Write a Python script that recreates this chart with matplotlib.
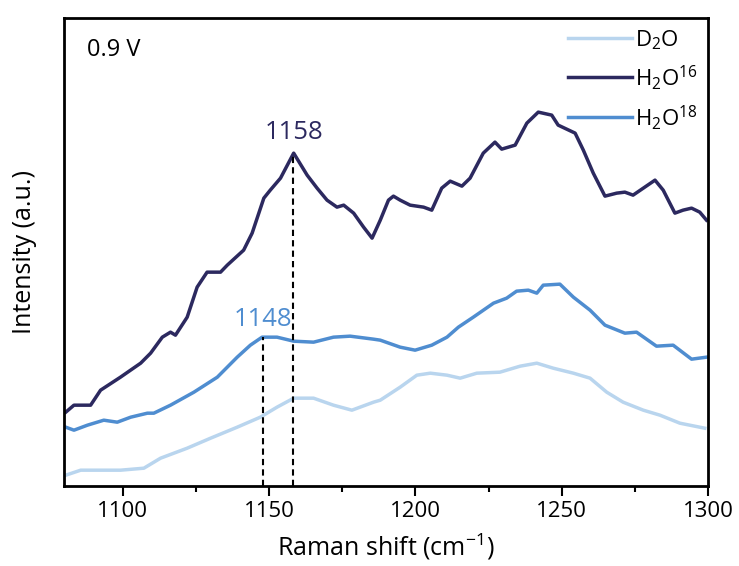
import matplotlib.pyplot as plt

plt.rcParams['font.family'] = ['Open Sans', 'DejaVu Sans']
plt.rcParams['mathtext.fontset'] = 'custom'
plt.rcParams['mathtext.rm'] = 'Open Sans'
plt.rcParams['mathtext.it'] = 'Open Sans'

# Raman shift (cm-1) and intensity (a.u.) for each electrolyte
shift_h2o16 = [1080.5, 1083.3, 1089.0, 1092.4, 1099.2, 1106.1, 1109.5, 1113.5, 1116.3, 1118.0,
               1122.0, 1125.4, 1128.8, 1133.4, 1135.7, 1141.3, 1144.2, 1148.2, 1150.4, 1153.9,
               1158.4, 1163.0, 1166.4, 1169.8, 1173.2, 1175.5, 1178.9, 1182.3, 1185.2, 1188.0,
               1190.8, 1192.5, 1194.8, 1198.2, 1202.8, 1205.6, 1209.0, 1211.9, 1215.9, 1218.7,
               1223.2, 1227.2, 1229.5, 1234.1, 1238.1, 1242.0, 1246.6, 1248.8, 1254.6, 1257.4,
               1260.8, 1264.8, 1268.8, 1271.6, 1274.4, 1277.9, 1281.9, 1284.7, 1288.7, 1291.5,
               1294.4, 1297.2, 1299.5]
int_h2o16 = [74, 81, 81, 96, 109, 123, 133, 149, 154, 151,
             169, 199, 214, 214, 221, 236, 253, 288, 296, 308,
             333, 311, 298, 286, 279, 281, 273, 259, 248, 266,
             286, 290, 286, 281, 279, 276, 298, 305, 300, 308,
             333, 344, 337, 341, 363, 374, 371, 361, 353, 336,
             313, 290, 293, 294, 291, 298, 306, 296, 273, 276,
             278, 274, 266]

shift_h2o18 = [1080.5, 1083.3, 1087.9, 1093.5, 1098.1, 1102.7, 1108.4, 1110.6, 1116.3, 1124.3,
               1132.3, 1139.1, 1143.6, 1147.6, 1152.7, 1158.4, 1165.2, 1172.0, 1177.7, 1185.7,
               1188.0, 1194.8, 1199.9, 1205.6, 1210.8, 1214.7, 1219.8, 1226.7, 1231.2, 1234.6,
               1238.6, 1241.5, 1243.7, 1249.4, 1254.0, 1259.7, 1264.8, 1271.6, 1275.6, 1282.4,
               1288.1, 1294.4, 1299.5]
int_h2o18 = [59, 56, 61, 66, 64, 69, 73, 73, 81, 94,
             109, 129, 141, 149, 149, 145, 144, 149, 150, 147,
             146, 139, 136, 141, 149, 159, 169, 183, 188, 195,
             196, 193, 201, 202, 189, 176, 161, 153, 154, 140,
             141, 127, 129]

shift_d2o = [1080.5, 1085.6, 1092.4, 1099.2, 1107.2, 1112.9, 1122.0, 1130.0, 1139.1, 1147.0,
             1152.7, 1158.4, 1165.2, 1172.0, 1178.3, 1185.7, 1188.0, 1194.8, 1200.5, 1205.1,
             1210.8, 1215.3, 1221.0, 1228.9, 1235.8, 1241.5, 1247.1, 1254.0, 1259.7, 1265.4,
             1271.0, 1277.9, 1283.6, 1290.4, 1298.9]
int_d2o = [11, 16, 16, 16, 18, 28, 38, 48, 59, 69,
           79, 88, 88, 81, 76, 84, 86, 99, 111, 113,
           111, 108, 113, 114, 120, 123, 118, 113, 108, 94,
           84, 76, 71, 63, 58]

peak_h2o16 = 1158
peak_h2o18 = 1148

c_d2o = '#b9d5ee'
c_h2o16 = '#2c295f'
c_h2o18 = '#4f8dd0'

fig = plt.figure(figsize=(7.39, 5.66), dpi=100)
ax = fig.add_axes([0.087, 0.141, 0.871, 0.827])

ax.plot(shift_d2o, int_d2o, color=c_d2o, lw=2.5, label='D$_2$O')
ax.plot(shift_h2o16, int_h2o16, color=c_h2o16, lw=2.5, label='H$_2$O$^{16}$')
ax.plot(shift_h2o18, int_h2o18, color=c_h2o18, lw=2.5, label='H$_2$O$^{18}$')

# dashed guides from the axis up to each peak
top16 = max(int_h2o16[i] for i, s in enumerate(shift_h2o16) if abs(s - peak_h2o16) < 1)
top18 = max(int_h2o18[i] for i, s in enumerate(shift_h2o18) if abs(s - peak_h2o18) < 1)
ax.plot([peak_h2o16, peak_h2o16], [0, top16], color='black', ls=(0, (3, 2)), lw=1.5)
ax.plot([peak_h2o18, peak_h2o18], [0, top18], color='black', ls=(0, (3, 2)), lw=1.5)
ax.text(peak_h2o16 + 0.5, top16 + 8, str(peak_h2o16), color=c_h2o16, fontsize=18.5,
        ha='center', va='bottom')
ax.text(peak_h2o18, top18 + 5, str(peak_h2o18), color=c_h2o18, fontsize=18.5,
        ha='center', va='bottom')

ax.text(0.035, 0.958, '0.9 V', transform=ax.transAxes, fontsize=17, va='top', ha='left')

ax.set_xlim(1080, 1300)
ax.set_ylim(0, 468)
ax.set_xticks([1100, 1150, 1200, 1250, 1300])
ax.set_xticks([1125, 1175, 1225, 1275], minor=True)
ax.set_yticks([])
ax.tick_params(axis='x', which='major', direction='out', length=7, width=1.5, labelsize=16)
ax.tick_params(axis='x', which='minor', direction='out', length=4, width=1.5)
for sp in ax.spines.values():
    sp.set_linewidth(2)

ax.set_xlabel('Raman shift (cm$^{-1}$)', fontsize=18, labelpad=7)
ax.set_ylabel('Intensity (a.u.)', fontsize=18, labelpad=20)

ax.legend(loc='upper right', frameon=False, fontsize=16, handlelength=2.9,
          handletextpad=0.15, labelspacing=0.5, borderaxespad=0.05)

fig.savefig('out.png', dpi=100)
